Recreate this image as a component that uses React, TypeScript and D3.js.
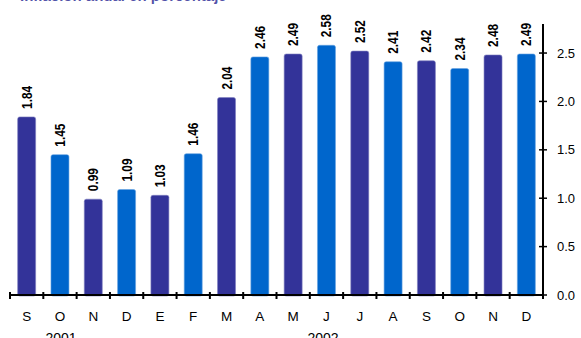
import React from "react";
import * as d3 from "d3";

const months = ["S", "O", "N", "D", "E", "F", "M", "A", "M", "J", "J", "A", "S", "O", "N", "D"];
const values = [1.84, 1.45, 0.99, 1.09, 1.03, 1.46, 2.04, 2.46, 2.49, 2.58, 2.52, 2.41, 2.42, 2.34, 2.48, 2.49];
const yTicks = [0, 0.5, 1.0, 1.5, 2.0, 2.5];
const years = [
  { label: "2001", x: 61 },
  { label: "2002", x: 323 },
];
const title = "Inflación anual en porcentaje";

const W = 581;
const H = 338;
const DARK = "#333399";
const BLUE = "#0066CC";

export default function App() {
  const ids = months.map((_, i) => String(i));
  const x = d3.scaleBand<string>().domain(ids).range([10, 543]).paddingInner(0.46).paddingOuter(0.23);
  const y = d3.scaleLinear().domain([0, 2.8]).range([295, 24]);
  const step = x.step();
  const x0 = 10;
  const axisX = 543;
  const font = "Arial, 'Liberation Sans', sans-serif";

  return (
    <svg width={W} height={H} style={{ position: "absolute", left: 0, top: 0, background: "#fff" }}>
      <text x={20} y={1.2} fill={DARK} fontFamily={font} fontWeight="bold" fontSize={15} fillOpacity={0.85}>
        {title}
      </text>
      {values.map((v, i) => {
        const bx = x(String(i))!;
        const bw = x.bandwidth();
        const top = y(v);
        return (
          <g key={i}>
            <rect
              x={bx}
              y={top}
              width={bw}
              height={y(0) - top + 1}
              rx={2}
              fill={i % 2 === 0 ? DARK : BLUE}
              stroke={i % 2 === 0 ? "#8080c0" : "#66a3e0"}
              strokeWidth={0.6}
            />
            <text
              transform={`translate(${bx + bw / 2 + 5},${top - 8}) rotate(-90)`}
              fontFamily={font}
              fontWeight="bold"
              fontSize={14}
              fill="#000"
              textLength={23}
              lengthAdjust="spacingAndGlyphs"
            >
              {v.toFixed(2)}
            </text>
          </g>
        );
      })}
      {/* x axis */}
      <line x1={x0} x2={axisX} y1={y(0)} y2={y(0)} stroke="#000" strokeWidth={2} />
      {d3.range(months.length + 1).map((i) => {
        const tx = x0 + i * step;
        return <line key={i} x1={tx} x2={tx} y1={y(0) - 3} y2={y(0) + 4} stroke="#000" strokeWidth={2} />;
      })}
      {months.map((m, i) => (
        <text
          key={i}
          x={x(String(i))! + x.bandwidth() / 2}
          y={321}
          textAnchor="middle"
          fontFamily={font}
          fontSize={13.5}
          fill="#000"
        >
          {m}
        </text>
      ))}
      {years.map((yr) => (
        <text key={yr.label} x={yr.x} y={343} textAnchor="middle" fontFamily={font} fontSize={14} fill="#000">
          {yr.label}
        </text>
      ))}
      {/* y axis (right) */}
      <line x1={axisX} x2={axisX} y1={24} y2={y(0) + 1} stroke="#000" strokeWidth={2} />
      {yTicks.map((t) => (
        <g key={t}>
          <line x1={axisX - 4} x2={axisX + 4} y1={y(t)} y2={y(t)} stroke="#000" strokeWidth={1.5} />
          <text x={557} y={y(t) + 4.5} fontFamily={font} fontSize={13} fill="#000">
            {t.toFixed(1)}
          </text>
        </g>
      ))}
    </svg>
  );
}
